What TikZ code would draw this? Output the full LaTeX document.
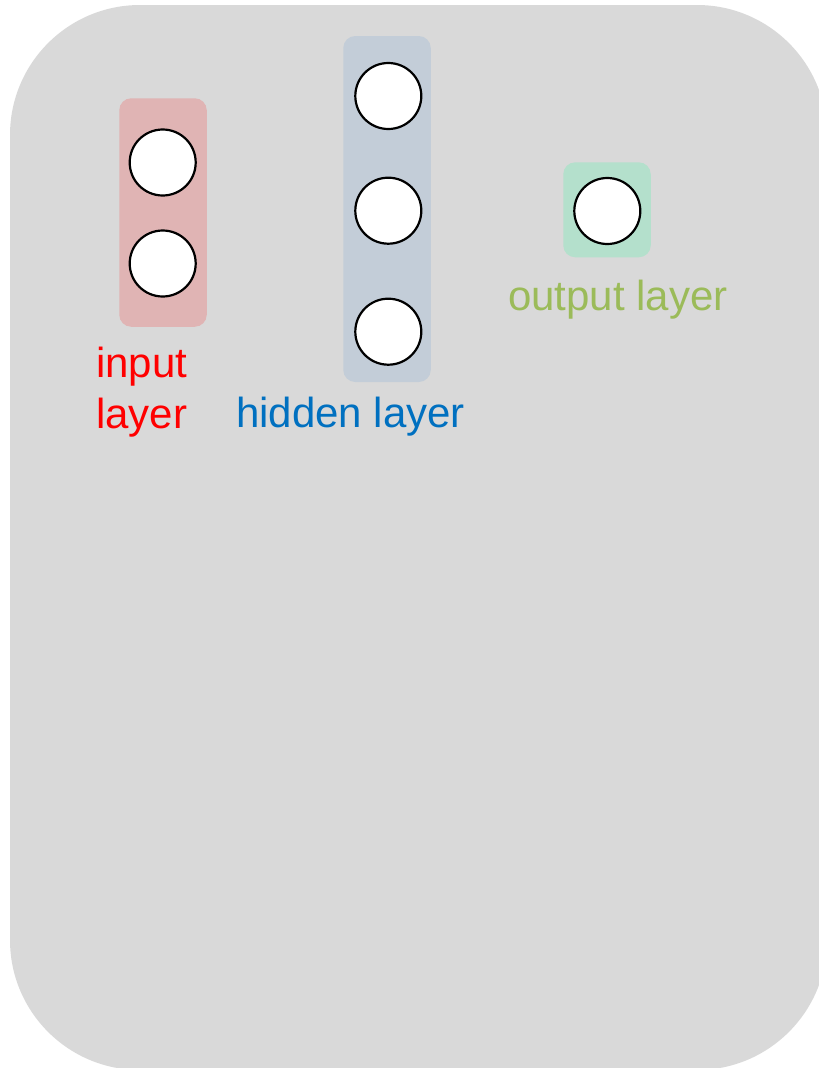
\documentclass[tikz,border=0pt]{standalone}
\usepackage{fontspec}
\setmainfont{Liberation Sans}
\begin{document}
\begin{tikzpicture}[x=1pt,y=-1pt,
  neuron/.style={circle,draw=black,fill=white,line width=2.2pt,minimum size=66pt,inner sep=0pt},
  layerbox/.style={rounded corners=12pt,inner sep=0pt,draw=none},
  lbl/.style={inner sep=0pt,font=\fontsize{42}{51}\selectfont,align=left}]
\definecolor{panel}{RGB}{217,217,217}
\definecolor{inbox}{RGB}{224,180,180}
\definecolor{hidbox}{RGB}{195,205,216}
\definecolor{outbox}{RGB}{180,224,204}
\definecolor{inred}{RGB}{255,0,0}
\definecolor{hidblue}{RGB}{0,112,192}
\definecolor{outgreen}{RGB}{155,187,89}
\useasboundingbox (0,0) rectangle (819,1068);
\clip (0,0) rectangle (819,1068);
% panel
\fill[panel,rounded corners=130pt] (10,5) rectangle (827,1070);
% layer boxes
\node[layerbox,fill=inbox,minimum width=87.5pt,minimum height=228.5pt] (inbg) at (163,212.5) {};
\node[layerbox,fill=hidbox,minimum width=87.5pt,minimum height=346pt] (hidbg) at (387,209) {};
\node[layerbox,fill=outbox,minimum width=87.5pt,minimum height=95pt] (outbg) at (607,209.8) {};
% neurons
\node[neuron] (i1) at (162.7,162.5) {};
\node[neuron] (i2) at (162.7,263.5) {};
\node[neuron] (h1) at (388.3,96) {};
\node[neuron] (h2) at (388.3,210.7) {};
\node[neuron] (h3) at (388.3,331.7) {};
\node[neuron] (o1) at (607.3,211) {};
% labels (base anchor sits on the last line)
\node[lbl,text=inred,anchor=base west] (inlbl) at (96,428) {input\\layer};
\node[lbl,text=hidblue,anchor=base west] (hidlbl) at (236,427) {hidden layer};
\node[lbl,text=outgreen,anchor=base west] (outlbl) at (508,310) {output layer};
\end{tikzpicture}
\end{document}
